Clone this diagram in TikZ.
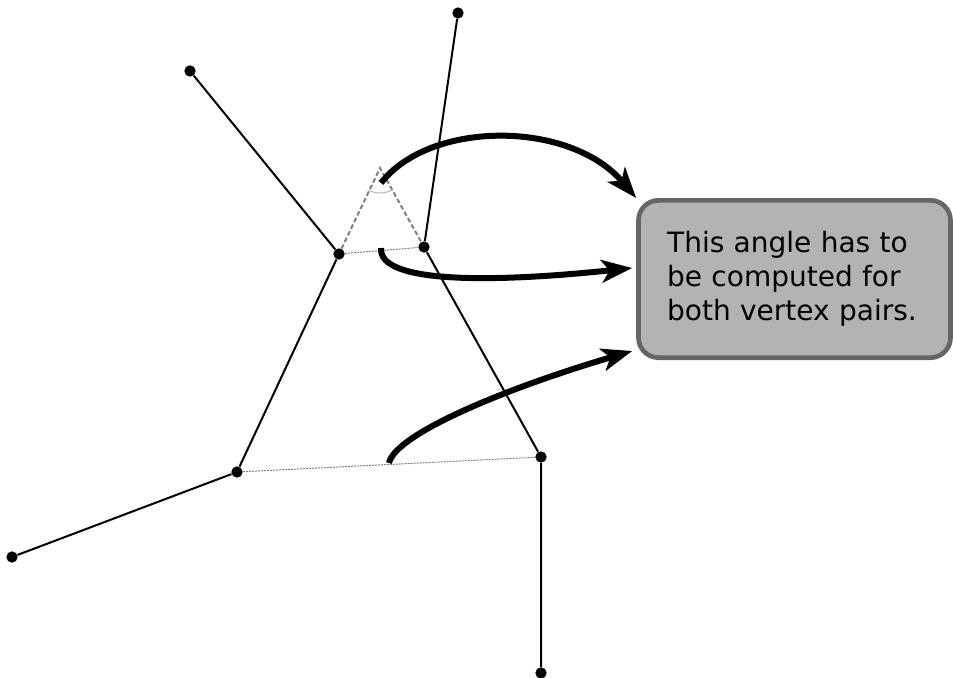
\documentclass[tikz,border=0pt]{standalone}
\usepackage{fontspec}
\setmainfont{DejaVu Sans}
\usepackage{tikz}
\usetikzlibrary{arrows.meta}
\usetikzlibrary{positioning}
\usetikzlibrary{calc}
\definecolor{boxfill}{HTML}{B3B3B3}
\definecolor{boxline}{HTML}{666666}
\definecolor{guide}{HTML}{808080}

\begin{document}
\begin{tikzpicture}[x=0.75pt, y=-0.75pt,
  vertex/.style={circle, fill=black, inner sep=0pt, minimum size=8.5pt},
  edge/.style={line width=1.5pt},
  guideline/.style={guide, line width=1.5pt, dash pattern=on 3.5pt off 2pt},
  pairline/.style={guide, line width=0.75pt, dash pattern=on 1.5pt off 0.75pt},
  pointer/.style={line width=4.5pt, -{Stealth[length=23pt, width=17pt, inset=6pt]}},
  callout/.style={draw=boxline, fill=boxfill, line width=3.5pt, rounded corners=15pt,
    text width=191pt, align=left, minimum width=234pt, minimum height=118pt,
    font=\fontsize{21}{25.5}\selectfont}
]

\useasboundingbox (0,0) rectangle (953,678);

% vertices
\node[vertex] (tl)   at (190, 71)  {};
\node[vertex] (ul)   at (339, 254) {};
\node[vertex] (top)  at (458, 13)  {};
\node[vertex] (ur)   at (424, 247) {};
\node[vertex] (ll)   at (237, 472) {};
\node[vertex] (far)  at (12, 557)  {};
\node[vertex] (lr)   at (541, 457) {};
\node[vertex] (bot)  at (541, 673) {};
\coordinate (apex) at (380, 168);

% the two chains
\draw[edge] (tl) -- (ul) -- (ll) -- (far);
\draw[edge] (top) -- (ur) -- (lr) -- (bot);

% vertex pairs
\draw[pairline] (ul) -- (ur);
\draw[pairline] (ll) -- (lr);

% extended edges and the angle between them
\draw[guideline] (ul) -- (apex) -- (ur);
\draw[guide!60, line width=0.75pt] ($(apex)+(61:25)$) arc[start angle=61, end angle=116, radius=25];

% the note
\node[callout] (note) at (794.5, 279) {This angle has to be computed for both vertex pairs.};

% pointers to the note
\coordinate (s1) at (381, 183);
\coordinate (s2) at (381, 248);
\coordinate (s3) at (389, 463);
\draw[pointer] (s1) .. controls (430, 120) and (570, 120) .. (note.north west);
\draw[pointer] (s2) .. controls (378, 285) and (500, 282) .. ($(note.west)+(-4,-11)$);
\draw[pointer] (s3) .. controls (395, 435) and (500, 390) .. ($(note.south west)+(-4,-9)$);

\end{tikzpicture}
\end{document}
